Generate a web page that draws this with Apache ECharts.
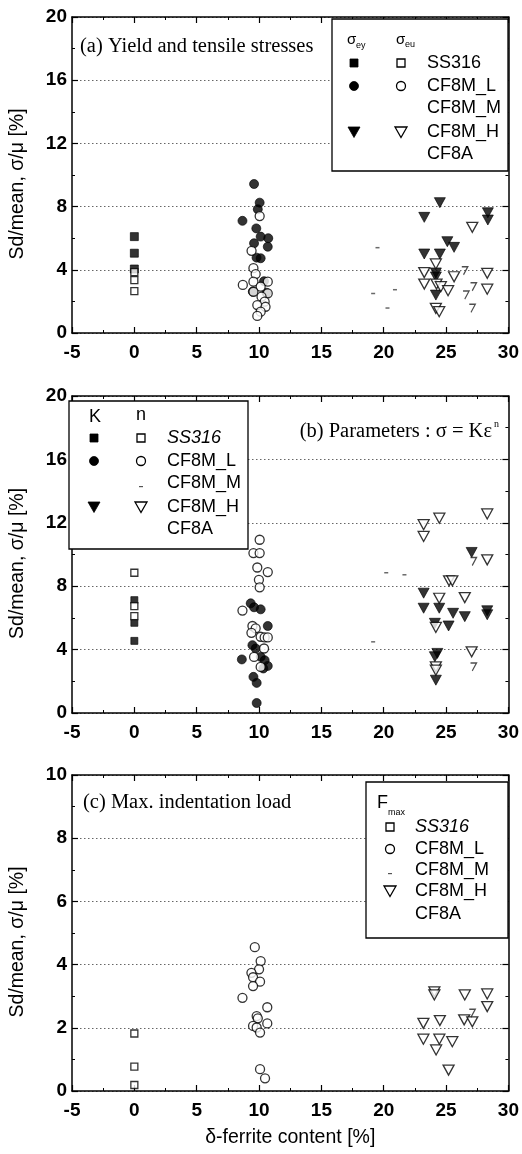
<!DOCTYPE html>
<html><head><meta charset="utf-8">
<script src="https://cdn.jsdelivr.net/npm/echarts@6/dist/echarts.min.js"></script>
<style>html,body{margin:0;padding:0;background:#fff}#c{width:522px;height:1154px}</style>
</head><body><div id="c"></div>
<script>
// ---------- axis ranges / ticks ----------
const xRange = [-5, 30], xStep = 5;
const yRangeAB = [0, 20], yStepAB = 4;
const yRangeC = [0, 10], yStepC = 2;
const xName = 'δ-ferrite content [%]';
const yName = 'Sd/mean, σ/μ [%]';
const legendNames = ['SS316', 'CF8M_L', 'CF8M_M', 'CF8M_H', 'CF8A'];

// ---------- panel (a): yield (σey, filled) and tensile (σeu, open) ----------
const a_SS316_ey = [[0,6.1],[0,5.05],[0,4.05]];
const a_SS316_eu = [[0,3.85],[0,3.35],[0,2.65]];
const a_L_ey = [[9.6,9.43],[10.05,8.25],[9.9,7.83],[8.67,7.1],[9.78,6.62],[10.13,6.1],[10.74,6.0],[10.7,5.46],[9.6,5.68],[9.8,4.77],[10.13,4.73],[10.4,3.28],[9.5,2.62],[10.6,2.55]];
const a_L_eu = [[10.05,7.4],[9.4,5.2],[9.55,4.1],[9.73,3.73],[8.7,3.04],[9.55,3.25],[10.7,3.25],[10.13,2.93],[9.55,2.61],[10.7,2.51],[10.2,2.3],[10.45,1.98],[9.86,1.77],[10.52,1.66],[10.13,1.35],[9.86,1.08]];
const a_M = [[19.15,2.5],[19.5,5.4],[20.3,1.58],[20.9,2.74]];
const a_H_ey = [[24.5,8.25],[23.25,7.32],[28.35,7.61],[28.35,7.15],[25.1,5.78],[25.64,5.42],[23.25,5.0],[24.5,5.0],[24.18,3.8],[24.18,3.55],[24.18,2.4]];
const a_H_eu = [[24.18,4.37],[23.25,3.82],[25.64,3.56],[28.3,3.78],[27.1,6.69],[23.25,3.1],[24.23,3.1],[24.58,2.93],[25.16,2.68],[28.3,2.77],[24.18,1.56],[24.45,1.35]];
const a_A = [[26.5,3.94],[27.2,2.93],[26.6,2.4],[27.1,1.56]];

// ---------- panel (b): K (filled) and n (open) ----------
const b_SS316_K = [[0,7.12],[0,5.69],[0,4.55]];
const b_SS316_n = [[0,8.85],[0,6.74],[0,6.11]];
const b_L_K = [[9.33,6.92],[9.6,6.67],[10.13,6.54],[10.7,5.49],[9.47,4.28],[9.73,4.07],[8.62,3.38],[10.13,3.54],[10.45,3.33],[10.7,2.97],[10.34,2.81],[9.55,2.28],[9.81,1.9],[9.81,0.63]];
const b_L_n = [[10.05,10.93],[9.55,10.09],[10.05,10.09],[9.86,9.18],[10.7,8.89],[9.99,8.4],[10.05,7.93],[8.67,6.46],[9.47,5.49],[9.73,5.34],[9.39,5.06],[10.13,4.81],[10.45,4.77],[10.7,4.77],[10.4,4.07],[9.6,3.54],[10.13,2.91]];
const b_M = [[20.2,8.85],[21.66,8.72],[19.15,4.49]];
const b_H_K = [[27.05,10.13],[23.2,7.56],[23.2,6.61],[24.45,6.61],[25.56,6.29],[26.5,6.08],[28.3,6.45],[28.3,6.2],[24.1,5.66],[25.2,5.49],[24.3,3.76],[24.1,3.55],[24.18,2.07]];
const b_H_n = [[23.2,11.88],[24.46,12.29],[28.3,12.56],[23.2,11.14],[28.3,9.66],[25.24,8.34],[25.5,8.34],[24.45,7.24],[26.5,7.28],[24.18,5.4],[27.05,3.86],[24.18,2.91],[24.18,2.7]];
const b_A = [[27.2,9.56],[27.2,2.91]];

// ---------- panel (c): Fmax ----------
const c_SS316 = [[0,1.82],[0,0.77],[0,0.19]];
const c_L = [[9.66,4.55],[10.13,4.11],[10.0,3.85],[9.39,3.74],[9.52,3.6],[10.08,3.46],[9.52,3.32],[8.67,2.95],[10.66,2.65],[9.81,2.37],[9.9,2.3],[9.52,2.06],[9.81,2.01],[10.66,2.14],[10.08,1.85],[10.08,0.69],[10.48,0.4]];
const c_H = [[24.06,3.14],[24.06,3.04],[26.5,3.04],[28.3,3.07],[28.3,2.67],[24.5,2.23],[23.18,2.14],[26.45,2.25],[27.1,2.19],[23.18,1.64],[24.46,1.64],[25.5,1.56],[24.2,1.3],[25.2,0.66]];
const c_A = [[27.1,2.46]];

// ---------- styling ----------
const SANS = 'Liberation Sans, Arial, sans-serif';
const SERIF = 'Liberation Serif, Times New Roman, serif';
const grids = [
  {left: 70, right: 12, top: 17, height: 316},
  {left: 70, right: 12, top: 396, height: 317},
  {left: 70, right: 12, top: 775, height: 316}
];

function xAxes(gi, withName) {
  const base = {
    gridIndex: gi, type: 'value', min: xRange[0], max: xRange[1], interval: xStep,
    axisLine: {show: true, onZero: false, lineStyle: {color: '#000', width: 1.5}},
    axisTick: {show: true, inside: true, length: 6, lineStyle: {color: '#000', width: 1.2}},
    minorTick: {show: true, splitNumber: 2, length: 3, lineStyle: {color: '#000', width: 1}},
    splitLine: {show: false}
  };
  const bottom = Object.assign({}, base, {
    position: 'bottom',
    axisLabel: {fontSize: 19, fontWeight: 'bold', fontFamily: SANS, color: '#000', margin: 10}
  });
  if (withName) {
    Object.assign(bottom, {name: xName, nameLocation: 'middle', nameGap: 37,
      nameTextStyle: {fontSize: 19.5, fontFamily: SANS, color: '#000'}});
  }
  const top = Object.assign({}, base, {position: 'top', axisLabel: {show: false}});
  return [bottom, top];
}
function yAxes(gi, range, step) {
  const base = {
    gridIndex: gi, type: 'value', min: range[0], max: range[1], interval: step,
    axisLine: {show: true, onZero: false, lineStyle: {color: '#000', width: 1.5}},
    axisTick: {show: true, inside: true, length: 6, lineStyle: {color: '#000', width: 1.2}},
    minorTick: {show: true, splitNumber: 2, length: 3, lineStyle: {color: '#000', width: 1}}
  };
  const left = Object.assign({}, base, {
    position: 'left',
    name: yName, nameLocation: 'middle', nameGap: 44,
    nameTextStyle: {fontSize: 19.5, fontFamily: SANS, color: '#000', padding: [0, 18, 0, 0]},
    axisLabel: {fontSize: 19, fontWeight: 'bold', fontFamily: SANS, color: '#000', margin: 5},
    splitLine: {show: true, lineStyle: {color: '#666', width: 1, type: [1.5, 2.5]}}
  });
  const right = Object.assign({}, base, {position: 'right', axisLabel: {show: false}, splitLine: {show: false}});
  return [left, right];
}

const SYM = {
  sq: 'rect', circ: 'circle', tri: 'triangle',
  seven: 'path://M0,0L7,0L2,9'
};
function S(gi, data, kind, filled, size) {
  const o = {
    type: 'scatter', xAxisIndex: gi * 2, yAxisIndex: gi * 2, data: data,
    symbol: SYM[kind], symbolSize: size, animation: false, silent: true,
    itemStyle: filled ? {color: '#000', borderColor: '#000', borderWidth: 0.8}
                      : {color: '#fff', borderColor: '#000', borderWidth: 1.3}
  };
  if (kind === 'tri') o.symbolRotate = 180;
  return o;
}
function Mk(gi, data) {
  return {type: 'scatter', xAxisIndex: gi * 2, yAxisIndex: gi * 2, data: data,
    symbol: 'rect', symbolSize: [4, 1.5], animation: false, silent: true,
    itemStyle: {color: '#444'}};
}
function Sv(gi, data) {
  return {type: 'scatter', xAxisIndex: gi * 2, yAxisIndex: gi * 2, data: data,
    symbol: SYM.seven, symbolSize: [6, 8], animation: false, silent: true,
    itemStyle: {color: 'rgba(0,0,0,0)', borderColor: '#222', borderWidth: 1.3}};
}
const TRI = [11, 10];
const series = [
  S(0, a_SS316_ey, 'sq', true, 8), S(0, a_SS316_eu, 'sq', false, 7),
  S(0, a_L_ey, 'circ', true, 9), S(0, a_L_eu, 'circ', false, 9),
  Mk(0, a_M),
  S(0, a_H_ey, 'tri', true, TRI), S(0, a_H_eu, 'tri', false, TRI),
  Sv(0, a_A),

  S(1, b_SS316_K, 'sq', true, 7), S(1, b_SS316_n, 'sq', false, 7),
  S(1, b_L_K, 'circ', true, 9), S(1, b_L_n, 'circ', false, 9),
  Mk(1, b_M),
  S(1, b_H_K, 'tri', true, TRI), S(1, b_H_n, 'tri', false, TRI),
  Sv(1, b_A),

  S(2, c_SS316, 'sq', false, 7), S(2, c_L, 'circ', false, 9),
  S(2, c_H, 'tri', false, TRI), Sv(2, c_A)
];

// ---------- legend boxes & titles (graphic) ----------
function txt(x, y, text, size, opts) {
  return {type: 'text', z: 20, style: Object.assign({x: x, y: y, text: text, fontSize: size,
    fontFamily: SANS, fill: '#000', verticalAlign: 'middle', align: 'left'}, opts || {})};
}
function box(x, y, w, h) {
  return {type: 'rect', z: 15, shape: {x: x, y: y, width: w, height: h},
    style: {fill: '#fff', stroke: '#000', lineWidth: 1.3}};
}
function gSym(kind, filled, x, y) {
  const st = filled ? {fill: '#000', stroke: '#000', lineWidth: 0.8}
                    : {fill: '#fff', stroke: '#000', lineWidth: 1.3};
  if (kind === 'sq') return {type: 'rect', z: 20, shape: {x: x - 4, y: y - 4, width: 8, height: 8}, style: st};
  if (kind === 'circ') return {type: 'circle', z: 20, shape: {cx: x, cy: y, r: 4.5}, style: st};
  if (kind === 'tri') return {type: 'polygon', z: 20, shape: {points: [[x - 6, y - 5], [x + 6, y - 5], [x, y + 5.5]]}, style: st};
  if (kind === 'dash') return {type: 'rect', z: 20, shape: {x: x - 2, y: y, width: 4, height: 1.2}, style: {fill: '#555'}};
}
const kinds = ['sq', 'circ', null, 'tri', null];

const graphics = [];
// panel (a)
graphics.push(box(332, 19, 176, 152));
graphics.push(txt(80, 47, '(a) Yield and tensile stresses', 20.5, {fontFamily: SERIF}));
graphics.push(txt(347, 40, 'σ', 15), txt(356, 46, 'ey', 9));
graphics.push(txt(396, 40, 'σ', 15), txt(405, 45, 'eu', 9));
const rowsA = [63, 86, 108, 132, 154];
legendNames.forEach((n, i) => {
  graphics.push(txt(427, rowsA[i], n, 18));
  if (kinds[i]) { graphics.push(gSym(kinds[i], true, 354, rowsA[i]), gSym(kinds[i], false, 401, rowsA[i])); }
});
// panel (b)
graphics.push(box(69, 401, 179, 148));
graphics.push(txt(492, 432, '(b) Parameters : σ = Kε', 20.5, {fontFamily: SERIF, align: 'right'}));
graphics.push(txt(494, 424, 'n', 10, {fontFamily: SERIF}));
graphics.push(txt(95, 417, 'K', 18, {align: 'center'}), txt(141, 415, 'n', 18, {align: 'center'}));
const rowsB = [438, 461, 483, 507, 529];
legendNames.forEach((n, i) => {
  graphics.push(txt(167, rowsB[i], n, 18, i === 0 ? {fontStyle: 'italic'} : {}));
  if (kinds[i]) { graphics.push(gSym(kinds[i], true, 94, rowsB[i]), gSym(kinds[i], false, 141, rowsB[i])); }
});
graphics.push(gSym('dash', false, 141, rowsB[2] + 3));
// panel (c)
graphics.push(box(366, 782, 142, 156));
graphics.push(txt(83, 803, '(c) Max. indentation load', 20.5, {fontFamily: SERIF}));
graphics.push(txt(377, 803, 'F', 18), txt(388, 813, 'max', 9));
const rowsC = [827, 849, 870, 891, 914];
legendNames.forEach((n, i) => {
  graphics.push(txt(415, rowsC[i], n, 18, i === 0 ? {fontStyle: 'italic'} : {}));
  if (kinds[i]) graphics.push(gSym(kinds[i], false, 390, rowsC[i]));
});
graphics.push(gSym('dash', false, 390, rowsC[2] + 3));

const chart = echarts.init(document.getElementById('c'), null, {renderer: 'canvas'});
chart.setOption({
  animation: false,
  backgroundColor: '#fff',
  grid: grids,
  xAxis: [].concat(xAxes(0, false), xAxes(1, false), xAxes(2, true)),
  yAxis: [].concat(yAxes(0, yRangeAB, yStepAB), yAxes(1, yRangeAB, yStepAB), yAxes(2, yRangeC, yStepC)),
  series: series,
  graphic: graphics
});
</script></body></html>
